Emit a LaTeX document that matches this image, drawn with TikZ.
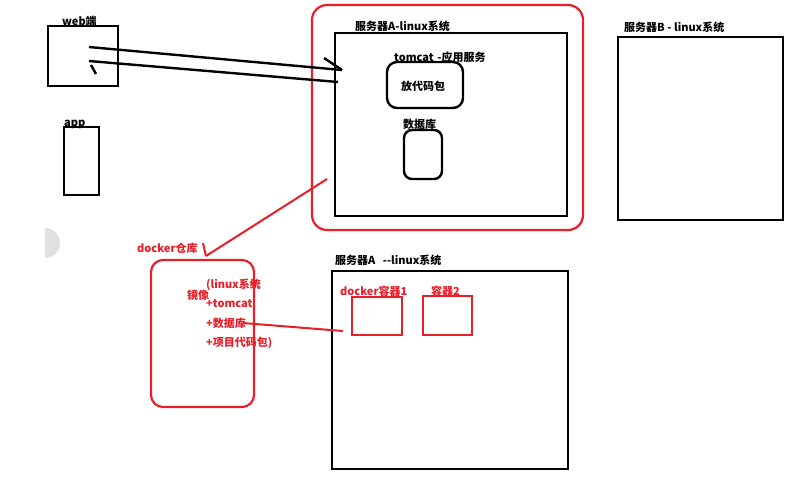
\documentclass[tikz,border=0pt]{standalone}
\usepackage{fontspec}
\setmainfont{Noto Sans CJK SC}
\begin{document}
\begin{tikzpicture}[x=1pt,y=-1pt,
  blk/.style={draw=black,line width=2.4pt},
  rbox/.style={draw=myred,line width=2.2pt},
  lbl/.style={font=\fontsize{11}{12}\selectfont\bfseries,inner sep=0pt,anchor=west},
  rlbl/.style={lbl,text=myred},
  stroke/.style={line width=2.4pt},
  rstroke/.style={line width=2pt,draw=myred}]
\definecolor{myred}{RGB}{232,30,40}
\useasboundingbox (0,0) rectangle (795,483);
% faint gray artefact at left
\fill[black!12] (45,258) arc[start angle=90,end angle=-90,radius=15] -- cycle;
% web box
\node[blk,minimum width=70pt,minimum height=60pt,inner sep=0pt] (web) at (83,56) {};
\node[lbl] (webl) at (62,21) {web端};
% app
\node[blk,minimum width=35pt,minimum height=68pt,inner sep=0pt] (app) at (81.5,161) {};
\node[lbl] (appl) at (64,124) {app};
% red outer
\draw[rbox,rounded corners=15pt] (312,5) rectangle (583,230);
% server A
\node[blk,minimum width=232pt,minimum height=183pt,inner sep=0pt] (srvA) at (451,124.5) {};
\node[lbl] (srvAl) at (355,26) {服务器A-linux系统};
\node[lbl] (tcl) at (394,57) {tomcat\,\,-应用服务};
\node[blk,rounded corners=10pt,minimum width=76pt,minimum height=46pt,inner sep=0pt] (code) at (425,85) {};
\node[font=\fontsize{11}{12}\selectfont\bfseries,inner sep=0pt] (codet) at (423,86) {放代码包};
\node[lbl] (dbl) at (403,124) {数据库};
\node[blk,rounded corners=8pt,minimum width=38pt,minimum height=49pt,inner sep=0pt] (db) at (423,154.5) {};
% server B
\node[blk,minimum width=165pt,minimum height=183pt,inner sep=0pt] (srvB) at (700.5,128.5) {};
\node[lbl] (srvBl) at (624,27) {服务器B - linux系统};
% web connectors
\coordinate (w1) at (89,47);
\coordinate (a1) at (342,70);
\coordinate (h1) at (324,58);
\coordinate (w2) at (89,61);
\coordinate (a2) at (338,82);
\coordinate (h2) at (96,74);
\draw[stroke] (w1) -- (a1);
\draw[stroke] (h1) -- (a1);
\draw[stroke] (a2) -- (w2);
\draw[stroke] (w2) ++(2,4) -- (h2);
% docker repo
\node[rlbl] (repol) at (137,248) {docker仓库};
\node[rbox,rounded corners=12pt,minimum width=103pt,minimum height=147pt,inner sep=0pt] (repo) at (202.5,333.5) {};
\coordinate (r0) at (327,179);
\coordinate (r1) at (206,256);
\coordinate (rh) at (203,243);
\draw[rstroke] (r0) -- (r1);
\draw[rstroke] (rh) -- (r1);
\node[rlbl] (t1) at (206,285) {(linux系统};
\node[rlbl] (t0) at (187,295) {镜像};
\node[rlbl] (t2) at (206,304) {+tomcat};
\node[rlbl] (t3) at (206,323) {+数据库};
\node[rlbl] (t4) at (206,343) {+项目代码包)};
% server A bottom
\node[lbl] (srvA2l) at (335,260) {服务器A\,\,\,\,{-}{-}linux系统};
\node[blk,minimum width=236pt,minimum height=198pt,inner sep=0pt] (srvA2) at (450,370) {};
\node[rlbl] (c1l) at (340,291) {docker容器1};
\node[rbox,minimum width=50pt,minimum height=38pt,inner sep=0pt] (c1) at (377,316) {};
\node[rlbl] (c2l) at (431,291) {容器2};
\node[rbox,minimum width=49pt,minimum height=39pt,inner sep=0pt] (c2) at (447.5,315.5) {};
\coordinate (l0) at (243,323);
\coordinate (l1) at (343,331);
\draw[rstroke] (l0) -- (l1);
\end{tikzpicture}
\end{document}
